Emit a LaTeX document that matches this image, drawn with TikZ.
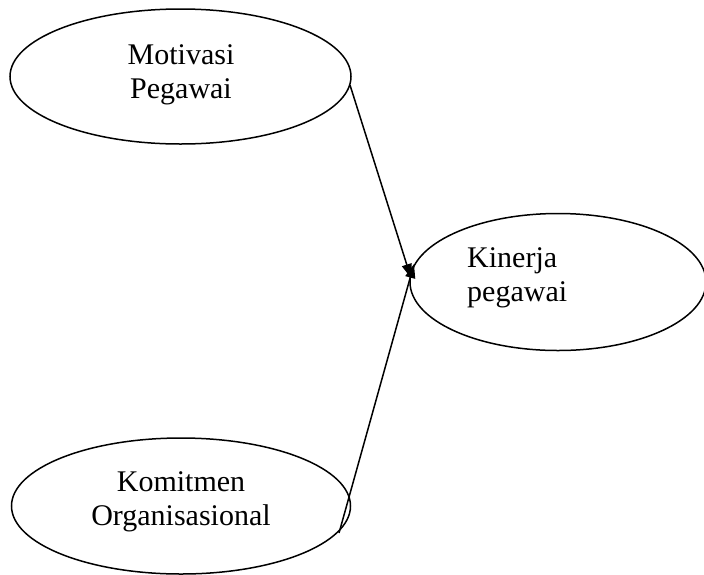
\documentclass[tikz,border=0pt]{standalone}
\usepackage{fontspec}
\setmainfont{Liberation Serif}
\usetikzlibrary{shapes.geometric,arrows.meta}
\begin{document}
\begin{tikzpicture}[x=1pt,y=-1pt,
  oval/.style={draw,ellipse,line width=1.5pt,inner sep=0pt},
  lbl/.style={font=\fontsize{30}{33.5}\selectfont,align=center,inner sep=0pt},
  conn/.style={line width=1.5pt,-{Triangle[length=14pt,width=10pt]}}]
\useasboundingbox (0,0) rectangle (704,574);
\node[oval,minimum width=341pt,minimum height=135pt] (m) at (180.5,76.5) {};
\node[lbl] (mt) at (181,75) {Motivasi\\Pegawai};
\node[oval,minimum width=296pt,minimum height=137pt] (k) at (558,282) {};
\node[lbl,align=left,anchor=west] (kt) at (467,278) {Kinerja\\pegawai};
\node[oval,minimum width=339pt,minimum height=136pt] (o) at (181,506) {};
\node[lbl] (ot) at (181,502) {Komitmen\\Organisasional};
\coordinate (ms) at (350,85);
\coordinate (os) at (339,533);
\coordinate (t1) at (411,278);
\coordinate (t2) at (414,264);
\draw[conn] (ms) -- (t1);
\draw[conn] (os) -- (t2);
\end{tikzpicture}
\end{document}
